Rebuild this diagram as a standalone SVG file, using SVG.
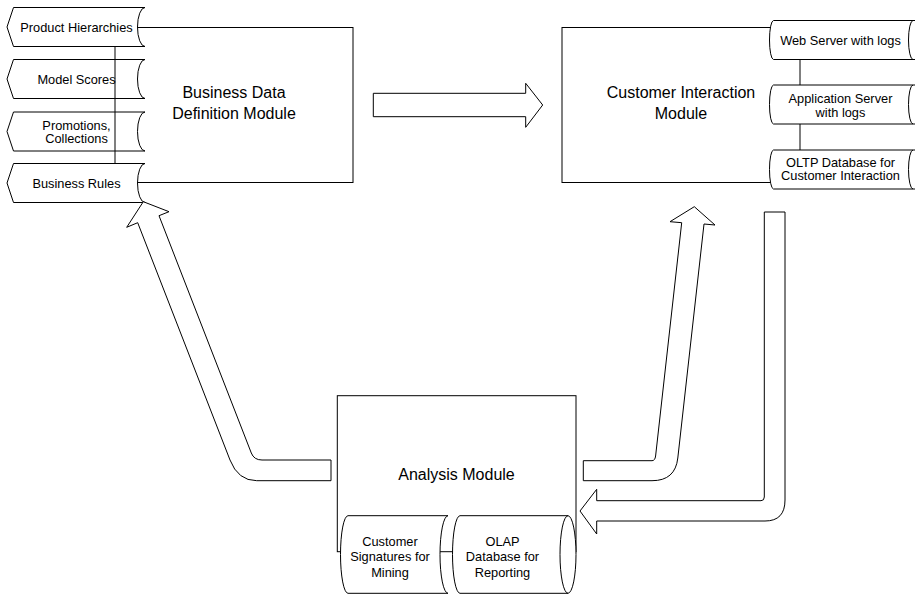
<svg xmlns="http://www.w3.org/2000/svg" width="915" height="594" viewBox="0 0 915 594">
<style>
.s{fill:#fff;stroke:#000;stroke-width:1}
.n{fill:none;stroke:#000;stroke-width:1}
.l{fill:none;stroke:#000;stroke-width:1}
.a{fill:#fff;stroke:#000;stroke-width:1;stroke-linejoin:miter}
text{font-family:"Liberation Sans",Arial,Helvetica,sans-serif;fill:#000;text-anchor:middle}
.big{font-size:16px}
.sm{font-size:12.8px}
</style>
<rect x="0" y="0" width="915" height="594" fill="#fff"/>

<!-- Left stored data shapes (under module outline) -->
<g id="model-scores">
<path class="s" d="M13.5,59.5 L145,59.5 A7.5,19.5 0 0 0 145,98.5 L13.5,98.5 L7,79 Z"/>
<text class="sm" x="76.5" y="84">Model Scores</text>
</g>
<g id="promotions-collections">
<path class="s" d="M13.5,112 L145,112 A7.5,19.5 0 0 0 145,151 L13.5,151 L7,131.5 Z"/>
<text class="sm" x="76.5" y="129.8">Promotions,</text>
<text class="sm" x="76.5" y="143.2">Collections</text>
</g>

<g id="business-data-definition-module">
<rect class="n" x="115" y="27.5" width="238" height="155"/>
<text class="big" x="234" y="98">Business Data</text>
<text class="big" x="234" y="118.5">Definition Module</text>
</g>

<g id="product-hierarchies">
<path class="s" d="M13.5,7.5 L145,7.5 A7.5,19.5 0 0 0 145,46.5 L13.5,46.5 L7,27 Z"/>
<text class="sm" x="76.5" y="32">Product Hierarchies</text>
</g>
<g id="business-rules">
<path class="s" d="M13.5,163.5 L145,163.5 A7.5,19.5 0 0 0 145,202.5 L13.5,202.5 L7,183 Z"/>
<text class="sm" x="76.5" y="188.3">Business Rules</text>
</g>

<!-- Customer Interaction Module -->
<g id="customer-interaction-module">
<rect class="s" x="562" y="27.5" width="238" height="155"/>
<text class="big" x="681" y="98">Customer Interaction</text>
<text class="big" x="681" y="118.5">Module</text>
</g>
<g id="web-server">
<path class="s" d="M773.5,20.5 L920,20.5 L920,59.5 L773.5,59.5 A4,19.5 0 0 1 773.5,20.5 Z"/>
<path class="l" d="M913,20.5 A4.5,19.5 0 0 0 913,59.5"/>
<text class="sm" x="840.5" y="45.3">Web Server with logs</text>
</g>
<g id="application-server">
<path class="s" d="M773.5,85 L920,85 L920,124 L773.5,124 A4,19.5 0 0 1 773.5,85 Z"/>
<path class="l" d="M913,85 A4.5,19.5 0 0 0 913,124"/>
<text class="sm" x="840.5" y="102.7">Application Server</text>
<text class="sm" x="840.5" y="116.7">with logs</text>
</g>
<g id="oltp-database">
<path class="s" d="M773.5,150 L920,150 L920,189 L773.5,189 A4,19.5 0 0 1 773.5,150 Z"/>
<path class="l" d="M913,150 A4.5,19.5 0 0 0 913,189"/>
<text class="sm" x="840.5" y="166.5">OLTP Database for</text>
<text class="sm" x="840.5" y="180.2">Customer Interaction</text>
</g>

<!-- Analysis Module -->
<g id="analysis-module">
<rect class="s" x="337.3" y="395.7" width="238.7" height="156"/>
<text class="big" x="456.5" y="479.5">Analysis Module</text>
</g>
<g id="customer-signatures">
<path class="s" d="M348,515.7 L448,515.7 A8,38.8 0 0 0 448,593.3 L348,593.3 A7.5,38.8 0 0 1 348,515.7 Z"/>
<text class="sm" x="390" y="545.7">Customer</text>
<text class="sm" x="390" y="561.2">Signatures for</text>
<text class="sm" x="390" y="577">Mining</text>
</g>
<g id="olap-database">
<path class="s" d="M460,515.7 L568,515.7 A8,38.8 0 0 1 568,593.3 L460,593.3 A7.5,38.8 0 0 1 460,515.7 Z"/>
<path class="l" d="M568,515.7 A8,38.8 0 0 0 568,593.3"/>
<text class="sm" x="502.5" y="545.7">OLAP</text>
<text class="sm" x="502.5" y="561.2">Database for</text>
<text class="sm" x="502.5" y="577">Reporting</text>
</g>

<!-- Connectors: block arrows -->
<g id="connectors">
<path class="a" d="M373.3,93.3 L525.7,93.3 L525.7,83.3 L542.7,105 L525.7,127.3 L525.7,116.7 L373.3,116.7 Z"/>
<path class="a" d="M143.3,201.7 L169,211.7 L159,215.7 L251.3,453 Q254,460 262,460 L331,460 L331,480.7 L256.7,480.7 Q238,480.7 230,460 L137.7,222.7 L126.7,227.3 Z"/>
<path class="a" d="M694.3,206.7 L715,225 L704,224 L677.8,458 Q675.3,480.7 652,480.7 L583.3,480.7 L583.3,460.7 L652,460.7 Q655,460.7 655.6,456 L681.7,222.7 L670,221.7 Z"/>
<path class="a" d="M764.3,212 L785,212 L785,500 Q785,521 765,521 L596.7,521 L596.7,534 L580,511 L596.7,489.3 L596.7,500.7 L761,500.7 Q764.3,500.7 764.3,497 Z"/>
</g>
</svg>
